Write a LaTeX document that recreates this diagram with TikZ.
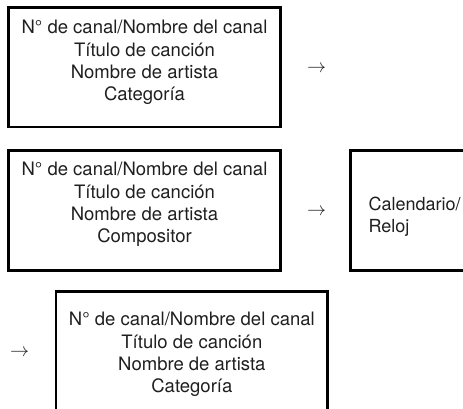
\documentclass[tikz,border=0pt]{standalone}
\usepackage{graphicx}
\usepackage{fontspec}
\setmainfont{TeX Gyre Heros}
\definecolor{ink}{rgb}{0.12,0.12,0.12}
\tikzset{
  framebox/.style={draw=black, line width=2.5pt, rectangle, inner sep=0pt},
  txt/.style={font=\fontsize{18.5}{22.3}\selectfont, text=ink, inner sep=0pt, outer sep=0pt},
  arrowglyph/.style={text=ink, inner sep=0pt},
}
\newcommand{\bigarr}{\scalebox{1.9}{$\rightarrow$}}
\begin{document}
\begin{tikzpicture}[x=1pt,y=-1pt]
\useasboundingbox (0,0) rectangle (463,408);
\clip (0,0) rectangle (463,408);
% boxes
\node[framebox, minimum width=272pt, minimum height=119.5pt] (b1) at (144.5,67.25) {};
\node[framebox, minimum width=272pt, minimum height=120pt] (b2) at (144.5,210.5) {};
\node[framebox, minimum width=119.3pt, minimum height=120pt] (b3) at (410.35,210.7) {};
\node[framebox, minimum width=271.7pt, minimum height=120pt] (b4) at (191.85,351.7) {};
% texts
\node[txt, align=center, anchor=north] (t1) at (144.5,20.3) {N° de canal/Nombre del canal\\Título de canción\\Nombre de artista\\Categoría};
\node[txt, align=center, anchor=north] (t2) at (144.5,162.5) {N° de canal/Nombre del canal\\Título de canción\\Nombre de artista\\Compositor};
\node[txt, font=\fontsize{18}{22.3}\selectfont, align=left, anchor=north west] (t3) at (368.5,197) {Calendario/\\Reloj};
\node[txt, align=center, anchor=north] (t4) at (191.85,312.5) {N° de canal/Nombre del canal\\Título de canción\\Nombre de artista\\Categoría};
% arrows (glyphs)
\node[arrowglyph] (a1) at (316.5,68.7) {\bigarr};
\node[arrowglyph] (a2) at (316.5,212) {\bigarr};
\node[arrowglyph] (a3) at (19.5,352.7) {\bigarr};
\end{tikzpicture}
\end{document}
